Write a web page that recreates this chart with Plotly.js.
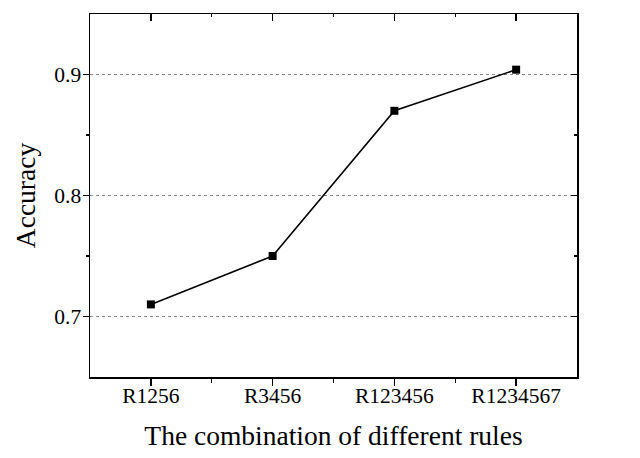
<!DOCTYPE html>
<html><head><meta charset="utf-8">
<script src="https://cdn.plot.ly/plotly-3.0.1.min.js"></script>
<style>html,body{margin:0;padding:0;background:#fff}</style>
</head><body><div id="chart" style="width:640px;height:458px"></div>
<script>
const categories = ["R1256", "R3456", "R123456", "R1234567"];
const accuracy = [0.71, 0.75, 0.87, 0.904];
const yTicks = [0.7, 0.8, 0.9];

const idx = categories.map((c, i) => i);
const font = {family: "Liberation Serif, Times New Roman, serif", color: "#000"};

const trace = {
  x: idx, y: accuracy, type: "scatter", mode: "lines+markers",
  line: {color: "#000", width: 1.6},
  marker: {symbol: "square", size: 8, color: "#000"},
  hoverinfo: "skip"
};

const layout = {
  width: 640, height: 458,
  margin: {l: 90, r: 63, t: 14, b: 81},
  paper_bgcolor: "#fff", plot_bgcolor: "#fff",
  showlegend: false,
  font: font,
  xaxis: {
    range: [-0.5, 3.5], tickvals: idx, ticktext: categories,
    ticks: "outside", ticklen: 7, tickwidth: 1.3, tickcolor: "#000",
    ticklabelstandoff: -8,
    minor: {tickvals: [0.5, 1.5, 2.5], ticks: "outside", ticklen: 4, tickwidth: 1.2, tickcolor: "#000"},
    showline: true, linecolor: "#000", linewidth: 1.5, mirror: true,
    showgrid: false, zeroline: false,
    tickfont: {family: font.family, size: 21.5, color: "#000"},
    title: {text: "The combination of different rules", font: {family: font.family, size: 27.5, color: "#000"}, standoff: 18}
  },
  yaxis: {
    range: [0.65, 0.95], tickvals: yTicks, ticktext: yTicks.map(v => v.toFixed(1)),
    ticks: "outside", ticklen: 6, tickwidth: 1.3, tickcolor: "#000",
    ticklabelstandoff: -3,
    minor: {tickvals: [0.75, 0.85], ticks: "outside", ticklen: 3, tickwidth: 1.2, tickcolor: "#000"},
    showline: true, linecolor: "#000", linewidth: 1.5, mirror: true,
    showgrid: true, gridcolor: "#888", griddash: "dot", gridwidth: 1,
    zeroline: false,
    tickfont: {family: font.family, size: 21.5, color: "#000"},
    title: {text: "Accuracy", font: {family: font.family, size: 27.5, color: "#000"}, standoff: 10}
  },
  xaxis2: {
    overlaying: "x", side: "top", matches: "x", range: [-0.5, 3.5],
    tickvals: idx, showticklabels: false,
    ticks: "inside", ticklen: 7, tickwidth: 1.3, tickcolor: "#000",
    minor: {tickvals: [0.5, 1.5, 2.5], ticks: "inside", ticklen: 3, tickwidth: 1.2, tickcolor: "#000"},
    showgrid: false, zeroline: false, showline: false
  },
  yaxis2: {
    overlaying: "y", side: "right", range: [0.65, 0.95],
    tickvals: yTicks, showticklabels: false,
    ticks: "inside", ticklen: 6, tickwidth: 1.3, tickcolor: "#000",
    minor: {tickvals: [0.75, 0.85], ticks: "inside", ticklen: 3, tickwidth: 1.2, tickcolor: "#000"},
    showgrid: false, zeroline: false, showline: false
  }
};

const ghost = {x: [idx[0]], y: [accuracy[0]], xaxis: "x2", yaxis: "y2", mode: "markers",
  marker: {opacity: 0}, hoverinfo: "skip", type: "scatter"};

Plotly.newPlot("chart", [trace, ghost], layout, {displayModeBar: false, staticPlot: true});
</script></body></html>
